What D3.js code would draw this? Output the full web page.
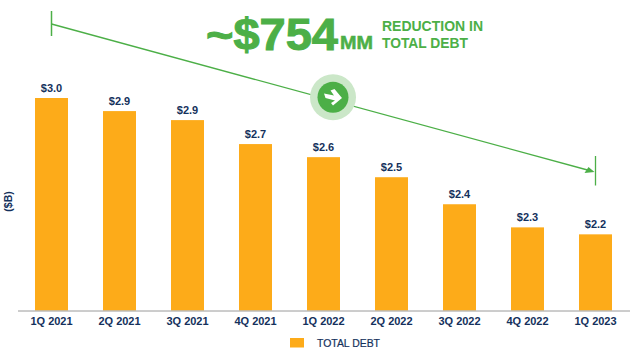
<!DOCTYPE html>
<html><head><meta charset="utf-8">
<script src="https://cdn.jsdelivr.net/npm/d3@7"></script>
<style>html,body{margin:0;padding:0;background:#fff;overflow:hidden}svg{display:block}text{font-family:"Liberation Sans",Arial,sans-serif}</style>
</head><body><svg id="c" width="640" height="356"></svg>
<script>
const categories=["1Q 2021","2Q 2021","3Q 2021","4Q 2021","1Q 2022","2Q 2022","3Q 2022","4Q 2022","1Q 2023"];
const totalDebt=[3.0,2.923,2.87,2.729,2.652,2.534,2.375,2.239,2.198];
const valueLabels=["$3.0","$2.9","$2.9","$2.7","$2.6","$2.5","$2.4","$2.3","$2.2"];
const navy="#14315c",orange="#fdab19",green="#4caf47";
const svg=d3.select("#c");
const x=d3.scaleBand().domain(categories).range([17.5,629.5]).paddingInner(.515).paddingOuter(.2575);
const y=d3.scaleLinear().domain([1.75,3.0]).range([310.5,98]);
svg.selectAll("rect.bar").data(totalDebt).join("rect").attr("class","bar")
 .attr("x",(d,i)=>x(categories[i])).attr("width",x.bandwidth())
 .attr("y",d=>y(d)).attr("height",d=>y.range()[0]-y(d)).attr("fill",orange);
svg.selectAll("text.val").data(totalDebt).join("text").attr("class","val")
 .attr("x",(d,i)=>x(categories[i])+x.bandwidth()/2).attr("y",d=>y(d)-6)
 .attr("text-anchor","middle").attr("font-size",11).attr("font-weight",700).attr("fill",navy)
 .text((d,i)=>valueLabels[i]);
const ax=svg.append("g").attr("transform","translate(0,310.5)").call(d3.axisBottom(x).tickSize(0).tickPadding(7));
ax.select(".domain").attr("stroke","#9a9a9a").attr("stroke-width",1);
ax.selectAll("text").attr("font-size",11).attr("font-weight",700).attr("fill",navy).style("font-family",'"Liberation Sans",Arial,sans-serif');
svg.append("text").attr("transform","translate(11.5,201.5) rotate(-90)").attr("text-anchor","middle")
 .attr("font-size",10.5).attr("font-weight",700).attr("fill",navy).text("($B)");
svg.append("rect").attr("x",290).attr("y",338).attr("width",14).attr("height",9.5).attr("fill",orange);
svg.append("text").attr("x",317).attr("y",346.5).attr("font-size",10.5).attr("font-weight",400).attr("stroke",navy).attr("stroke-width",.2).attr("fill",navy).attr("textLength",63).attr("lengthAdjust","spacingAndGlyphs").text("TOTAL DEBT");
// reduction annotation
const x0=x(categories[0])+x.bandwidth()/2, x1=x(categories[8])+x.bandwidth()/2;
const ann=svg.append("g").attr("stroke",green).attr("fill","none");
ann.append("line").attr("x1",x0).attr("x2",x0).attr("y1",11).attr("y2",36).attr("stroke-width",1.5);
ann.append("line").attr("x1",x0).attr("y1",24).attr("x2",x1-8).attr("y2",170).attr("stroke-width",1.3);
ann.append("line").attr("x1",x1).attr("x2",x1).attr("y1",156).attr("y2",185.5).attr("stroke-width",1.3);
svg.append("path").attr("d",`M${x1-1},172 L${x1-11},173 L${x1-7},167 Z`).attr("fill",green);
svg.append("circle").attr("cx",333).attr("cy",97.3).attr("r",23).attr("fill","#cbe7c8");
svg.append("circle").attr("cx",333).attr("cy",97.3).attr("r",15.5).attr("fill",green);
svg.append("path").attr("d","M324,93.5 L334,95.5 L330.5,90.5 L334.5,89 L342,98 L333,105.5 L331,103 L335,100.5 L325.5,98 Z").attr("fill","#fff");
svg.append("text").attr("x",206).attr("y",50).attr("font-size",44).attr("font-weight",700).attr("fill",green).attr("stroke",green).attr("stroke-width",1).attr("textLength",132).attr("lengthAdjust","spacingAndGlyphs").text("~$754");
svg.append("text").attr("x",340).attr("y",49).attr("font-size",18).attr("font-weight",700).attr("fill",green).attr("stroke",green).attr("stroke-width",.5).attr("textLength",33).attr("lengthAdjust","spacingAndGlyphs").text("MM");
svg.append("text").attr("x",382).attr("y",31).attr("font-size",14.3).attr("font-weight",700).attr("fill",green).attr("textLength",101).attr("lengthAdjust","spacingAndGlyphs").text("REDUCTION IN");
svg.append("text").attr("x",382).attr("y",47.5).attr("font-size",14.3).attr("font-weight",700).attr("fill",green).attr("textLength",86).attr("lengthAdjust","spacingAndGlyphs").text("TOTAL DEBT");
</script></body></html>
